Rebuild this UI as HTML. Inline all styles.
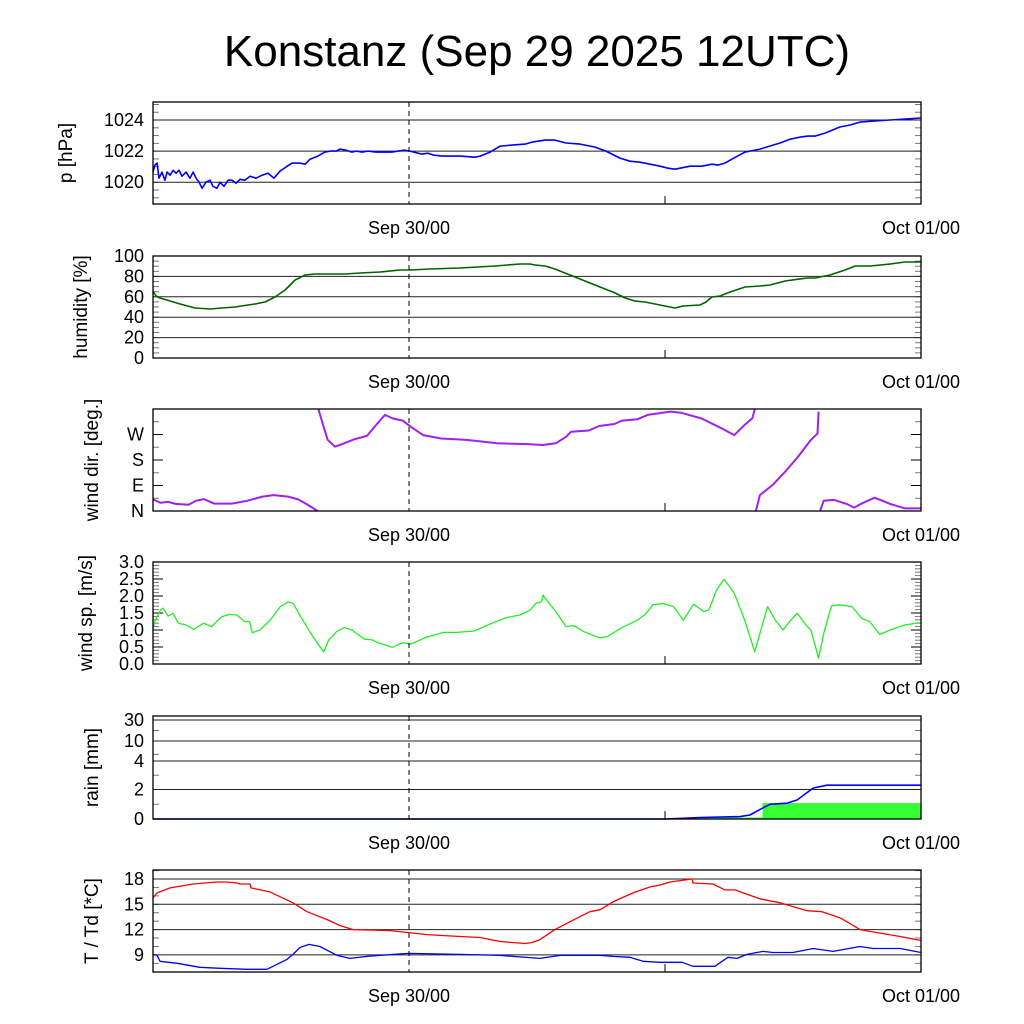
<!DOCTYPE html>
<html><head><meta charset="utf-8"><style>
html,body{margin:0;padding:0;background:#fff;}
svg{display:block;font-family:"Liberation Sans",sans-serif;}
</style></head><body>
<svg id="chart" width="1024" height="1024" viewBox="0 0 1024 1024" xmlns="http://www.w3.org/2000/svg">
<rect width="1024" height="1024" fill="#fff"/>
<text x="537" y="66" font-size="44" text-anchor="middle">Konstanz (Sep 29 2025 12UTC)</text>
</svg>
<script>
// ---- data (hours since Sep 29 12UTC) ----
const xTickLabels = ["Sep 30/00","Oct 01/00"];
const xTickHours = [12,36];
const pHours=[0,.09,.19,.28,.42,.56,.66,.80,.94,1.08,1.22,1.36,1.55,1.73,1.88,2.02,2.16,2.30,2.48,2.67,2.81,3.00,3.14,3.33,3.52,3.70,3.89,4.08,4.31,4.55,4.83,5.11,5.39,5.67,5.95,6.23,6.52,6.89,7.13,7.36,7.73,8.06,8.30,8.58,8.77,9.05,9.33,9.52,9.80,10.08,10.45,10.83,11.20,11.77,12.05,12.42,12.61,12.89,13.17,13.55,14.39,15.09,15.33,15.80,16.27,16.83,17.44,17.77,18.38,18.84,19.36,20.02,20.72,21.23,21.89,22.36,22.83,23.30,23.77,24.14,24.47,25.17,25.73,26.20,26.48,26.81,27.23,27.75,28.45,29.39,29.86,30.33,30.70,31.03,31.50,32.20,32.67,33.14,33.84,34.55,35.25,36];
const pValues=[1020.65,1021.10,1021.23,1020.26,1020.65,1020.13,1020.65,1020.45,1020.77,1020.58,1020.77,1020.39,1020.65,1020.26,1020.65,1020.26,1020.00,1019.61,1020.00,1020.13,1019.74,1019.61,1020.00,1019.74,1020.13,1020.13,1019.94,1020.19,1020.13,1020.39,1020.26,1020.45,1020.58,1020.26,1020.71,1020.97,1021.23,1021.23,1021.16,1021.48,1021.68,1021.94,1022.00,1022.00,1022.13,1022.06,1021.94,1022.00,1021.94,1022.00,1021.94,1021.94,1021.94,1022.06,1022.00,1021.87,1021.81,1021.87,1021.74,1021.68,1021.68,1021.61,1021.68,1021.94,1022.32,1022.39,1022.45,1022.58,1022.71,1022.71,1022.52,1022.45,1022.26,1022.00,1021.55,1021.35,1021.29,1021.16,1021.03,1020.90,1020.84,1021.03,1021.03,1021.16,1021.10,1021.23,1021.55,1021.94,1022.13,1022.52,1022.77,1022.90,1022.97,1022.97,1023.16,1023.55,1023.68,1023.87,1023.94,1024.00,1024.06,1024.13];
const pTicks=[1020,1022,1024];
const hHours=[0,.14,.33,.80,1.27,1.97,2.67,3.23,3.84,4.45,4.78,5.25,5.72,6.19,6.66,7.13,7.59,8.30,9.00,9.70,10.64,11.58,12.05,12.98,14.39,15.23,16.03,17.20,17.67,17.91,18.38,18.84,19.31,19.78,20.25,20.72,21.19,21.66,22.13,22.59,23.06,23.53,24.00,24.47,24.84,25.64,25.92,26.20,26.58,27.05,27.75,28.45,28.92,29.63,30.33,30.70,31.03,31.73,32.44,32.91,33.61,34.55,35.25,36];
const hValues=[65.7,60.8,58.8,55.9,52.9,49.0,48.0,49.0,50.0,52.0,52.9,54.9,59.8,66.7,76.5,81.4,82.4,82.4,82.4,83.3,84.3,86.3,86.3,87.3,88.2,89.2,90.2,92.2,92.2,91.2,90.2,87.3,83.3,79.4,75.5,71.6,67.6,63.7,58.8,55.9,54.9,52.9,51.0,49.0,51.0,52.0,54.9,59.8,60.8,64.7,69.6,70.6,71.6,75.5,77.5,78.4,78.4,81.4,86.3,90.2,90.2,92.2,94.1,94.1];
const hTicks=[0,20,40,60,80,100];
const dSeg1Hours=[0,.35,.71,1.06,1.66,2.02,2.38,2.86,3.70,4.41,5.13,5.66,6.33,6.80,7.28,7.71];
const dSeg1Deg=[41,29,32,25,22,36,42,26,26,36,51,56,51,41,21,0];
const dSeg2Hours=[7.76,7.95,8.19,8.53,8.96,9.43,10.03,10.39,10.87,11.23,11.70,12.07,12.66,13.50,14.70,16.13,17.57,18.28,18.88,19.36,19.60,20.43,20.91,21.63,21.99,22.71,23.19,24.26,24.74,25.70,26.65,27.25,27.73,28.09,28.21];
const dSeg2Deg=[359,309,251,227,239,253,265,298,339,327,319,298,268,256,251,239,236,233,239,262,280,284,300,307,319,324,339,351,347,327,292,268,304,327,359];
const dSeg3Hours=[28.26,28.45,29.05,29.64,30.24,30.84,31.15,31.20];
const dSeg3Deg=[0,56,92,139,192,251,274,351];
const dSeg4Hours=[31.27,31.44,31.92,32.51,32.87,33.23,33.83,34.55,35.26,36];
const dSeg4Deg=[0,36,39,25,12,27,47,25,9,9];
const dTickLabels=["N","E","S","W"];
const dTickDeg=[0,90,180,270];
const sHours=[0,.11,.35,.47,.71,.94,1.18,1.54,1.90,2.38,2.74,3.22,3.58,3.93,4.29,4.53,4.65,5.01,5.49,5.97,6.33,6.57,6.92,7.52,7.88,8.00,8.24,8.60,8.96,9.32,9.92,10.27,10.63,11.23,11.71,12.07,12.78,13.62,14.22,15.05,15.89,16.61,17.21,17.69,17.93,18.21,18.28,18.52,18.88,19.36,19.72,20.20,20.92,21.27,21.99,22.71,23.07,23.43,23.91,24.39,24.86,25.34,25.82,26.06,26.42,26.77,27.25,27.73,28.21,28.45,28.81,29.17,29.53,29.89,30.20,30.60,30.84,31.20,31.44,31.80,32.16,32.75,33.23,33.59,34.07,34.55,35.26,36];
const sValues=[1.05,1.29,1.59,1.64,1.41,1.49,1.20,1.15,1.02,1.20,1.10,1.39,1.46,1.44,1.25,1.25,0.92,1.00,1.29,1.69,1.83,1.78,1.39,0.78,0.46,0.36,0.71,0.95,1.07,1.00,0.73,0.71,0.61,0.49,0.63,0.58,0.78,0.93,0.93,0.97,1.20,1.37,1.44,1.59,1.78,1.83,2.03,1.83,1.54,1.10,1.13,0.95,0.77,0.80,1.07,1.29,1.46,1.74,1.78,1.69,1.29,1.76,1.54,1.59,2.18,2.49,2.08,1.29,0.36,0.90,1.69,1.29,1.00,1.29,1.49,1.15,1.00,0.17,0.90,1.71,1.74,1.69,1.34,1.25,0.87,1.00,1.15,1.22];
const sTicks=[0,0.5,1.0,1.5,2.0,2.5,3.0];
const rHours=[0,24,25.64,27.52,27.98,28.59,28.92,29.72,30.19,30.94,31.59,36];
const rValues=[0,0,0.1,0.16,0.27,0.75,1.0,1.07,1.29,2.1,2.3,2.3];
const rBarStart=[25.6,28.57];
const rBarEnd=[28.57,36];
const rBarValues=[0.1,1.08];
const rTicks=[0,2,4,10,30];
const tHours=[0,.19,.80,1.88,3.00,3.47,3.94,4.08,4.55,4.59,5.48,6.56,7.22,8.16,8.77,9.38,11.11,12.00,12.84,14.39,15.33,16.27,17.44,17.77,18.14,18.84,19.55,20.48,20.95,21.56,22.50,23.30,23.77,24.23,25.27,25.31,26.25,26.81,27.28,27.66,28.45,29.39,29.86,30.66,31.36,32.20,33.14,33.94,35.02,36];
const tValues=[15.76,16.35,16.94,17.41,17.65,17.65,17.53,17.41,17.41,16.94,16.47,15.18,14.12,13.18,12.47,12.00,11.88,11.65,11.41,11.18,11.06,10.59,10.35,10.47,10.82,12.00,12.94,14.12,14.35,15.29,16.35,17.06,17.29,17.65,18.00,17.53,17.41,16.71,16.71,16.35,15.65,15.18,14.82,14.24,14.12,13.41,12.00,11.65,11.18,10.71];
const tdHours=[0,.19,.33,1.13,2.20,3.14,4.41,5.34,6.28,6.56,6.89,7.31,7.83,8.63,9.23,10.03,11.25,12.0,14.39,16.27,18.14,19.08,20.95,21.56,22.36,22.97,23.77,24.80,25.31,26.34,26.95,27.38,27.84,28.59,29.06,30.00,30.94,31.88,33.14,33.75,35.02,36];
const tdValues=[9.06,8.94,8.24,8.00,7.53,7.41,7.29,7.29,8.47,9.06,9.88,10.24,10.0,8.94,8.59,8.82,9.06,9.18,9.06,8.94,8.59,8.94,8.94,8.82,8.71,8.24,8.12,8.12,7.65,7.65,8.71,8.59,9.06,9.41,9.29,9.29,9.76,9.41,10.0,9.76,9.76,9.29];
const tTicks=[9,12,15,18];

// ---- drawing ----
const NS="http://www.w3.org/2000/svg";
const svg=document.getElementById('chart');
const X0=153,X1=921,H0=0,H1=36;
function xs(h){return X0+(h-H0)/(H1-H0)*(X1-X0);}
function mk(tag,attrs,parent){const e=document.createElementNS(NS,tag);for(const k in attrs)e.setAttribute(k,attrs[k]);(parent||svg).appendChild(e);return e;}
function linY(min,max,top,bot){return v=>bot-(v-min)/(max-min)*(bot-top);}
const rainPts=[0,2,4,10,30,35];const rainPx=[819,789.5,761,741,720,716];
function rainY(v){for(let i=0;i<rainPts.length-1;i++){if(v<=rainPts[i+1]){return rainPx[i]+(v-rainPts[i])/(rainPts[i+1]-rainPts[i])*(rainPx[i+1]-rainPx[i]);}}return 716;}

function panel(name,top,bot,ylab,labX){
  const g=mk('g',{});
  
  
  const t=mk('text',{x:labX,y:(top+bot)/2,'font-size':19,'text-anchor':'middle',transform:`rotate(-90 ${labX} ${(top+bot)/2})`},g);
  t.textContent=ylab;
  
  
  xTickLabels.forEach((lab,i)=>{const tx=mk('text',{x:xs(xTickHours[i]),y:bot+30,'font-size':18,'text-anchor':'middle'},g);tx.textContent=lab;
    
    });
  return g;
}
function frame(g,top,bot){
  mk('line',{x1:xs(12),x2:xs(12),y1:top,y2:bot,stroke:'#000','stroke-width':1,'stroke-dasharray':'5,4'},g);
  mk('line',{x1:xs(24),x2:xs(24),y1:bot,y2:bot-8,stroke:'#000','stroke-width':1},g);
  mk('rect',{x:X0,y:top,width:X1-X0,height:bot-top,fill:'none',stroke:'#000','stroke-width':1.3},g);
}
function yTicks(g,vals,fy,labels,grid,minor){
  if(minor) minor.forEach(v=>{const y=fy(v);mk('line',{x1:X0,x2:X0+6,y1:y,y2:y,stroke:'#777','stroke-width':1},g);mk('line',{x1:X1,x2:X1-6,y1:y,y2:y,stroke:'#777','stroke-width':1},g);});
  vals.forEach((v,i)=>{const y=fy(v);
    if(grid) mk('line',{x1:X0,x2:X1,y1:y,y2:y,stroke:'#222','stroke-width':1},g);
    else {mk('line',{x1:X0,x2:X0+10,y1:y,y2:y,stroke:'#000','stroke-width':1},g);mk('line',{x1:X1,x2:X1-10,y1:y,y2:y,stroke:'#000','stroke-width':1},g);}
    const t=mk('text',{x:X0-9,y:y+6,'font-size':18,'text-anchor':'end'},g);t.textContent=labels[i];
    
    });
}
function line(g,hs,vs,fy,color,w,name){
  const d=hs.map((h,i)=>(i?'L':'M')+xs(h).toFixed(1)+','+fy(vs[i]).toFixed(1)).join('');
  const p=mk('path',{d:d,fill:'none',stroke:color,'stroke-width':w,'stroke-linejoin':'round'},g);
  
  
  return p;
}
function range(a,b,s){const r=[];for(let v=a;v<=b+1e-9;v+=s)r.push(+v.toFixed(3));return r;}

let g=panel('pressure',102,204,'p [hPa]',72);
let fy=linY(1018.6,1025.16,102,204);
yTicks(g,pTicks,fy,pTicks.map(String),true,range(1019,1025,0.5));
line(g,pHours,pValues,fy,'#0000ff',1.6,'pressure-line');
frame(g,102,204);

g=panel('humidity',256,358,'humidity [%]',87);
fy=linY(0,100,256,358);
yTicks(g,hTicks,fy,hTicks.map(String),true,range(5,95,5));
line(g,hHours,hValues,fy,'#006400',1.6,'humidity-line');
frame(g,256,358);

g=panel('wind-direction',409,511,'wind dir. [deg.]',98);
fy=linY(0,360,409,511);
yTicks(g,dTickDeg,fy,dTickLabels,false,[45,135,225,315]);
line(g,dSeg1Hours,dSeg1Deg,fy,'#a020f0',2,'wind-direction-line');
line(g,dSeg2Hours,dSeg2Deg,fy,'#a020f0',2,'wind-direction-line');
line(g,dSeg3Hours,dSeg3Deg,fy,'#a020f0',2,'wind-direction-line');
line(g,dSeg4Hours,dSeg4Deg,fy,'#a020f0',2,'wind-direction-line');
frame(g,409,511);

g=panel('wind-speed',562,664,'wind sp. [m/s]',92);
fy=linY(0,3,562,664);
yTicks(g,sTicks,fy,sTicks.map(v=>v.toFixed(1)),false,range(0.1,2.9,0.1));
line(g,sHours,sValues,fy,'#22ee22',1.3,'wind-speed-line');
frame(g,562,664);

g=panel('rain',716,819,'rain [mm]',98);
yTicks(g,rTicks,rainY,rTicks.map(String),true,[1,3,6,20]);
rBarValues.forEach((v,i)=>{const b=mk('rect',{x:xs(rBarStart[i]),y:rainY(v),width:xs(rBarEnd[i])-xs(rBarStart[i]),height:819-rainY(v),fill:'#33ff33'},g);
  
  });
line(g,rHours,rValues,rainY,'#0000ff',1.6,'rain-accumulation-line');
frame(g,716,819);

g=panel('temperature',870,972,'T / Td [*C]',98);
fy=v=>879+(18-v)*(25.3/3);
yTicks(g,tTicks,fy,tTicks.map(String),true,range(8,19,1));
line(g,tHours,tValues,fy,'#ff0000',1.3,'temperature-line');
line(g,tdHours,tdValues,fy,'#0000ff',1.3,'dewpoint-line');
frame(g,870,972);
</script>
</body></html>
